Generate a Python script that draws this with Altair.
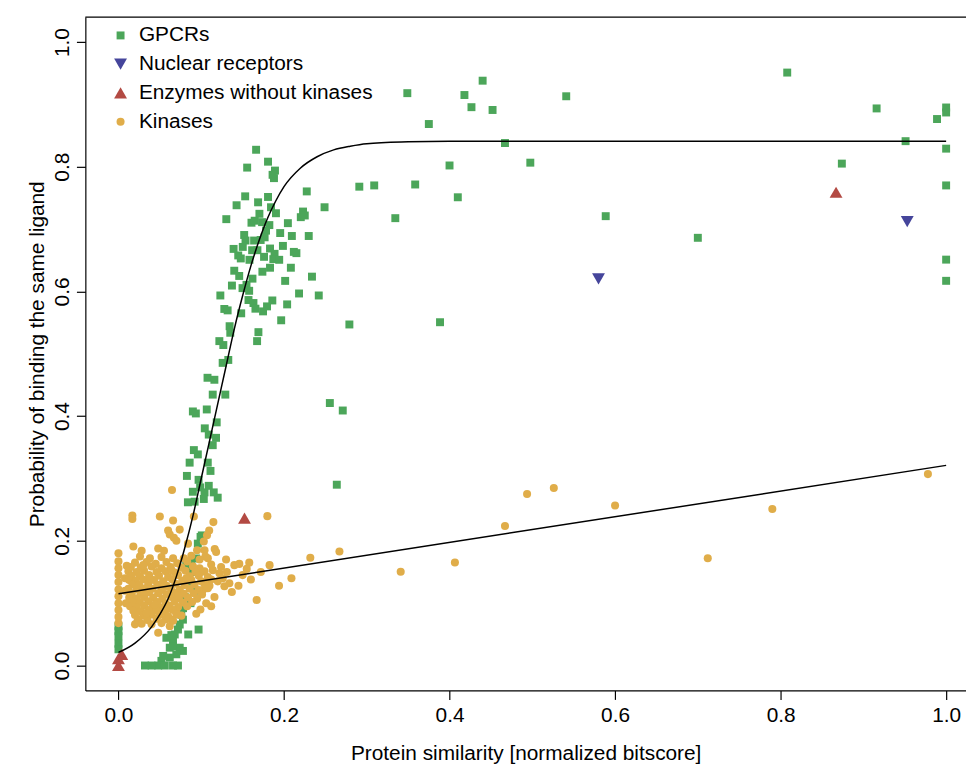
import altair as alt
import pandas as pd

# ---------------- data ----------------
groups = ["GPCRs", "Nuclear receptors", "Enzymes without kinases", "Kinases"]
colors = ["#4CA65A", "#45459B", "#B34A43", "#E0AD49"]
shapes = ["square", "triangle-down", "triangle-up", "circle"]
sizes = [64, 169, 169, 66]

gpcr_points = [
    # sparse upper right
    (0.440, 0.938), (0.349, 0.918), (0.418, 0.915), (0.4265, 0.8955), (0.452, 0.891),
    (0.541, 0.913), (0.375, 0.8685), (0.467, 0.838), (0.400, 0.802), (0.4976, 0.8065),
    (0.291, 0.768), (0.309, 0.770), (0.3585, 0.7715), (0.249, 0.735), (0.410, 0.751),
    (0.3345, 0.7175), (0.5887, 0.7207), (0.242, 0.5935), (0.279, 0.547), (0.3885, 0.5506),
    (0.808, 0.951), (0.916, 0.8935), (1.0, 0.895), (1.0, 0.887), (0.989, 0.8765),
    (0.951, 0.841), (1.0, 0.829), (0.874, 0.805), (1.0, 0.770), (0.700, 0.686),
    (1.0, 0.651), (1.0, 0.617), (0.2638, 0.290), (0.2554, 0.421), (0.271, 0.409),
    # dense upper cluster
    (0.1663, 0.8272), (0.1807, 0.8081), (0.1555, 0.7986), (0.1891, 0.7938), (0.1862, 0.7870),
    (0.1879, 0.7817), (0.2275, 0.7604), (0.1531, 0.7525), (0.1807, 0.7515), (0.1427, 0.7382),
    (0.1687, 0.7429), (0.1843, 0.7350), (0.1703, 0.7245), (0.1903, 0.7254), (0.2230, 0.7281),
    (0.2203, 0.7191), (0.2251, 0.7218), (0.1303, 0.7159), (0.1607, 0.7102), (0.1646, 0.7134),
    (0.1735, 0.7111), (0.1823, 0.7064), (0.2047, 0.7095), (0.1783, 0.6975), (0.1954, 0.6936),
    (0.1519, 0.6905), (0.2095, 0.6889), (0.2299, 0.6889), (0.1535, 0.6816), (0.1639, 0.6816),
    (0.1718, 0.6825), (0.1766, 0.6868), (0.1391, 0.6682), (0.1502, 0.6714), (0.1615, 0.6661),
    (0.1679, 0.6661), (0.1831, 0.6688), (0.1987, 0.6730), (0.1447, 0.6577), (0.1478, 0.6529),
    (0.1583, 0.6507), (0.1759, 0.6555), (0.1886, 0.6603), (0.1871, 0.6518), (0.1942, 0.6507),
    (0.2119, 0.6634), (0.2150, 0.6614), (0.1399, 0.6332), (0.1459, 0.6248), (0.1739, 0.6316),
    (0.1831, 0.6380), (0.2083, 0.6380), (0.1619, 0.6205), (0.2014, 0.6169), (0.2338, 0.6237),
    (0.1371, 0.6094), (0.1499, 0.6053), (0.1547, 0.6105), (0.1579, 0.6010), (0.2182, 0.5967),
    (0.1231, 0.5935), (0.1571, 0.5862), (0.1631, 0.5814), (0.1655, 0.5723), (0.1747, 0.5680),
    (0.1795, 0.5760), (0.1859, 0.5855), (0.2038, 0.5792), (0.1279, 0.5719), (0.1319, 0.5696),
    (0.1483, 0.5649), (0.1966, 0.5537), (0.1343, 0.5442), (0.1351, 0.5337), (0.1691, 0.5347),
    (0.1675, 0.5203), (0.1219, 0.5203), (0.1267, 0.5140), (0.1259, 0.4854), (0.1327, 0.4901),
    (0.1076, 0.4615), (0.1159, 0.4583), (0.1139, 0.4345), (0.1291, 0.4345), (0.0899, 0.4075),
    (0.0935, 0.4043), (0.1067, 0.4107), (0.1187, 0.3900), (0.1043, 0.3804), (0.1091, 0.3704),
    (0.1179, 0.3652), (0.1139, 0.3534), (0.0911, 0.3455), (0.0959, 0.3386), (0.0860, 0.3254),
    (0.0827, 0.3041), (0.1112, 0.3121), (0.1079, 0.3254), (0.0968, 0.2978), (0.0899, 0.2787),
    (0.0987, 0.2857), (0.1040, 0.2777), (0.1091, 0.2882), (0.1151, 0.2777), (0.1199, 0.2692),
    (0.0839, 0.2618), (0.0920, 0.2628), (0.1031, 0.2671),
    # partly hidden among kinases
    (0.0992, 0.2062), (0.0959, 0.1955), (0.1007, 0.2087), (0.0879, 0.1665), (0.0819, 0.1610),
    (0.0939, 0.1717), (0.090, 0.150), (0.085, 0.135), (0.092, 0.120), (0.080, 0.110),
    (0.087, 0.100), (0.078, 0.092),
    # lower cluster
    (0.0968, 0.0577), (0.0759, 0.0816), (0.0779, 0.0736), (0.0740, 0.0657), (0.0719, 0.0577),
    (0.0843, 0.0498), (0.0680, 0.0498), (0.0659, 0.0418), (0.0579, 0.0445), (0.0620, 0.0286),
    (0.0740, 0.0286), (0.0779, 0.0234), (0.0699, 0.0180), (0.0620, 0.0127), (0.0540, 0.0154),
    (0.0519, 0.0075), (0.0480, 0.0), (0.0400, 0.0), (0.0320, 0.0), (0.0560, 0.0),
    (0.0659, 0.0), (0.0719, 0.0), (0.0639, 0.0488), (0.0659, 0.0313),
    # x = 0 column
    (0.0, 0.063), (0.0, 0.055), (0.0, 0.047), (0.0, 0.035), (0.0, 0.026),
]

kinase_points = [
    # far right
    (0.2318, 0.1728), (0.267, 0.183), (0.341, 0.1505), (0.4065, 0.1653), (0.467, 0.2237),
    (0.4937, 0.275), (0.526, 0.2846), (0.600, 0.2565), (0.712, 0.172), (0.790, 0.251),
    (0.978, 0.307),
    # around the cluster
    (0.0647, 0.2814), (0.0168, 0.2405), (0.0168, 0.235), (0.050, 0.239), (0.066, 0.2326),
    (0.0911, 0.239), (0.1147, 0.230), (0.1799, 0.2396), (0.074, 0.218), (0.060, 0.2167),
    (0.062, 0.210), (0.067, 0.205), (0.070, 0.200), (0.1096, 0.2167), (0.107, 0.209),
    (0.1031, 0.199), (0.084, 0.1955), (0.018, 0.191), (0.028, 0.184), (0.048, 0.1876),
    (0.055, 0.184), (0.1163, 0.187), (0.140, 0.161), (0.146, 0.163), (0.158, 0.165),
    (0.1826, 0.161), (0.209, 0.140), (0.194, 0.128), (0.167, 0.105), (0.128, 0.127),
    (0.134, 0.132), (0.104, 0.185), (0.108, 0.172), (0.118, 0.182), (0.114, 0.153),
    (0.122, 0.148), (0.102, 0.121), (0.112, 0.162), (0.120, 0.135), (0.126, 0.140),
    (0.131, 0.150), (0.110, 0.128), (0.116, 0.110), (0.106, 0.100), (0.112, 0.095),
    (0.099, 0.090), (0.094, 0.083), (0.105, 0.175), (0.098, 0.170), (0.088, 0.176),
    (0.079, 0.172), (0.066, 0.172), (0.052, 0.174), (0.038, 0.172), (0.026, 0.175),
    (0.010, 0.160), (0.008, 0.140), (0.008, 0.120), (0.009, 0.100), (0.048, 0.0525),
    (0.064, 0.0736), (0.062, 0.063), (0.076, 0.080), (0.020, 0.066), (0.023, 0.071),
    (0.070, 0.085), (0.150, 0.145), (0.160, 0.138), (0.172, 0.150), (0.137, 0.118),
    (0.145, 0.128), (0.155, 0.155), (0.124, 0.158), (0.095, 0.185), (0.100, 0.150),
    (0.130, 0.170),
    # x = 0 column
    (0.0, 0.180), (0.0, 0.167), (0.0, 0.156), (0.0, 0.145), (0.0, 0.134), (0.0, 0.122),
    (0.0, 0.111), (0.0, 0.100), (0.0, 0.089), (0.0, 0.078), (0.0, 0.068),
    # dense core
    (0.020, 0.165), (0.034, 0.166), (0.045, 0.163), (0.058, 0.166), (0.071, 0.164), (0.083, 0.167),
    (0.015, 0.158), (0.027, 0.157), (0.040, 0.159), (0.052, 0.156), (0.063, 0.158), (0.076, 0.157),
    (0.090, 0.159), (0.098, 0.156),
    (0.012, 0.151), (0.022, 0.150), (0.031, 0.152), (0.046, 0.150), (0.057, 0.151), (0.068, 0.149),
    (0.081, 0.152), (0.093, 0.150), (0.104, 0.151),
    (0.016, 0.144), (0.026, 0.143), (0.037, 0.145), (0.049, 0.144), (0.060, 0.142), (0.072, 0.145),
    (0.086, 0.143), (0.097, 0.144), (0.108, 0.142),
    (0.013, 0.137), (0.021, 0.136), (0.030, 0.138), (0.043, 0.137), (0.054, 0.135), (0.065, 0.138),
    (0.077, 0.136), (0.088, 0.137), (0.100, 0.135), (0.112, 0.138),
    (0.017, 0.130), (0.025, 0.129), (0.036, 0.131), (0.047, 0.130), (0.058, 0.128), (0.069, 0.131),
    (0.080, 0.129), (0.092, 0.130), (0.104, 0.131),
    (0.012, 0.123), (0.022, 0.122), (0.032, 0.124), (0.041, 0.123), (0.052, 0.121), (0.063, 0.124),
    (0.074, 0.122), (0.086, 0.123), (0.097, 0.121), (0.108, 0.124),
    (0.016, 0.116), (0.027, 0.115), (0.037, 0.117), (0.048, 0.116), (0.058, 0.114), (0.068, 0.117),
    (0.079, 0.115), (0.091, 0.116), (0.101, 0.114),
    (0.013, 0.109), (0.022, 0.108), (0.031, 0.110), (0.042, 0.109), (0.053, 0.107), (0.064, 0.110),
    (0.073, 0.108), (0.084, 0.109), (0.095, 0.107),
    (0.017, 0.102), (0.026, 0.101), (0.036, 0.103), (0.047, 0.102), (0.057, 0.100), (0.068, 0.103),
    (0.078, 0.101), (0.089, 0.102),
    (0.014, 0.095), (0.022, 0.094), (0.031, 0.096), (0.041, 0.095), (0.051, 0.093), (0.062, 0.096),
    (0.072, 0.094), (0.083, 0.095),
    (0.018, 0.088), (0.027, 0.087), (0.037, 0.089), (0.046, 0.088), (0.056, 0.086), (0.066, 0.089),
    (0.020, 0.081), (0.030, 0.080), (0.040, 0.082), (0.050, 0.081), (0.060, 0.079), (0.070, 0.082),
    (0.024, 0.074), (0.035, 0.073), (0.046, 0.075), (0.057, 0.074), (0.066, 0.072),
    (0.028, 0.067), (0.040, 0.066), (0.052, 0.068),
    # extra fill of the core
    (0.030, 0.161), (0.064, 0.153), (0.038, 0.140), (0.082, 0.140), (0.056, 0.126),
    (0.030, 0.119), (0.072, 0.112), (0.044, 0.098), (0.034, 0.084), (0.060, 0.091),
]

nuclear_points = [(0.580, 0.620), (0.953, 0.712)]
enzyme_points = [(0.867, 0.759), (0.1523, 0.2364), (0.0, 0.0), (0.0, 0.011), (0.004, 0.018)]

# fitted curves
gpcr_fit_x = [0.00, 0.02, 0.04, 0.05, 0.06, 0.07, 0.08, 0.09, 0.10, 0.11, 0.12, 0.13, 0.14,
              0.15, 0.16, 0.17, 0.18, 0.19, 0.20, 0.22, 0.24, 0.26, 0.28, 0.30, 0.35, 0.40, 1.00]
gpcr_fit_y = [0.021, 0.036, 0.062, 0.082, 0.107, 0.143, 0.188, 0.240, 0.300, 0.360, 0.420, 0.480,
              0.540, 0.593, 0.641, 0.682, 0.717, 0.745, 0.768, 0.798, 0.816, 0.827, 0.833, 0.837,
              0.840, 0.841, 0.841]
kinase_fit_x = [0.0, 1.0]
kinase_fit_y = [0.115, 0.321]

x_ticks = [0.0, 0.2, 0.4, 0.6, 0.8, 1.0]
y_ticks = [0.0, 0.2, 0.4, 0.6, 0.8, 1.0]

# ---------------- build tables ----------------
rows = []
for name, pts in [("GPCRs", gpcr_points), ("Kinases", kinase_points),
                  ("Nuclear receptors", nuclear_points), ("Enzymes without kinases", enzyme_points)]:
    for x, y in pts:
        rows.append({"x": x, "y": y, "group": name})
pts_df = pd.DataFrame(rows)
fit_df = pd.DataFrame({"x": gpcr_fit_x, "y": gpcr_fit_y})
kfit_df = pd.DataFrame({"x": kinase_fit_x, "y": kinase_fit_y})

W, H = 888, 679
FONT = "Liberation Sans"

xs = alt.Scale(domain=[-0.04, 1.024], nice=False, zero=False)
ys = alt.Scale(domain=[-0.04, 1.04], nice=False, zero=False)

x_axis = alt.Axis(values=x_ticks, format=".1f", title="Protein similarity [normalized bitscore]",
                  labelPadding=5, titlePadding=18, labelFlush=False)
y_axis = alt.Axis(values=y_ticks, format=".1f", title="Probability of binding the same ligand",
                  labelAngle=270, labelAlign="center", labelBaseline="bottom",
                  labelPadding=4, titlePadding=4)

leg = alt.Legend(title=None, orient="none", legendX=25, legendY=8, padding=0,
                 labelFontSize=21, labelFont=FONT, labelColor="black", labelOffset=8,
                 labelLimit=500, rowPadding=7, symbolStrokeWidth=0, symbolOpacity=1)

points = alt.Chart(pts_df).mark_point(filled=True, opacity=1, strokeWidth=0).encode(
    x=alt.X("x:Q", scale=xs, axis=x_axis),
    y=alt.Y("y:Q", scale=ys, axis=y_axis),
    color=alt.Color("group:N", scale=alt.Scale(domain=groups, range=colors), legend=leg),
    shape=alt.Shape("group:N", scale=alt.Scale(domain=groups, range=shapes), legend=leg),
    size=alt.Size("group:N", scale=alt.Scale(type="ordinal", domain=groups, range=sizes), legend=leg),
)

curve = alt.Chart(fit_df).mark_line(color="black", strokeWidth=1.5, interpolate="monotone").encode(
    x=alt.X("x:Q", scale=xs), y=alt.Y("y:Q", scale=ys))
kline = alt.Chart(kfit_df).mark_line(color="black", strokeWidth=1.5).encode(
    x=alt.X("x:Q", scale=xs), y=alt.Y("y:Q", scale=ys))

top_border = alt.Chart(pd.DataFrame({"a": [0]})).mark_rule(color="black", strokeWidth=1.2).encode(
    x=alt.value(0), x2=alt.value(W), y=alt.value(0))

chart = alt.layer(points, curve, kline, top_border).properties(
    width=W, height=H,
    autosize=alt.AutoSizeParams(type="none"),
    padding={"left": 78, "top": 6, "right": 0, "bottom": 72},
).configure_view(stroke=None).configure_axis(
    labelFont=FONT, titleFont=FONT, labelFontSize=21, titleFontSize=21,
    titleFontWeight="normal", labelColor="black", titleColor="black",
    domainColor="black", tickColor="black", domainWidth=1.2, tickWidth=1.2,
    tickSize=9, grid=False,
)

chart.save("out.html", embed_options={"renderer": "svg", "actions": False})
